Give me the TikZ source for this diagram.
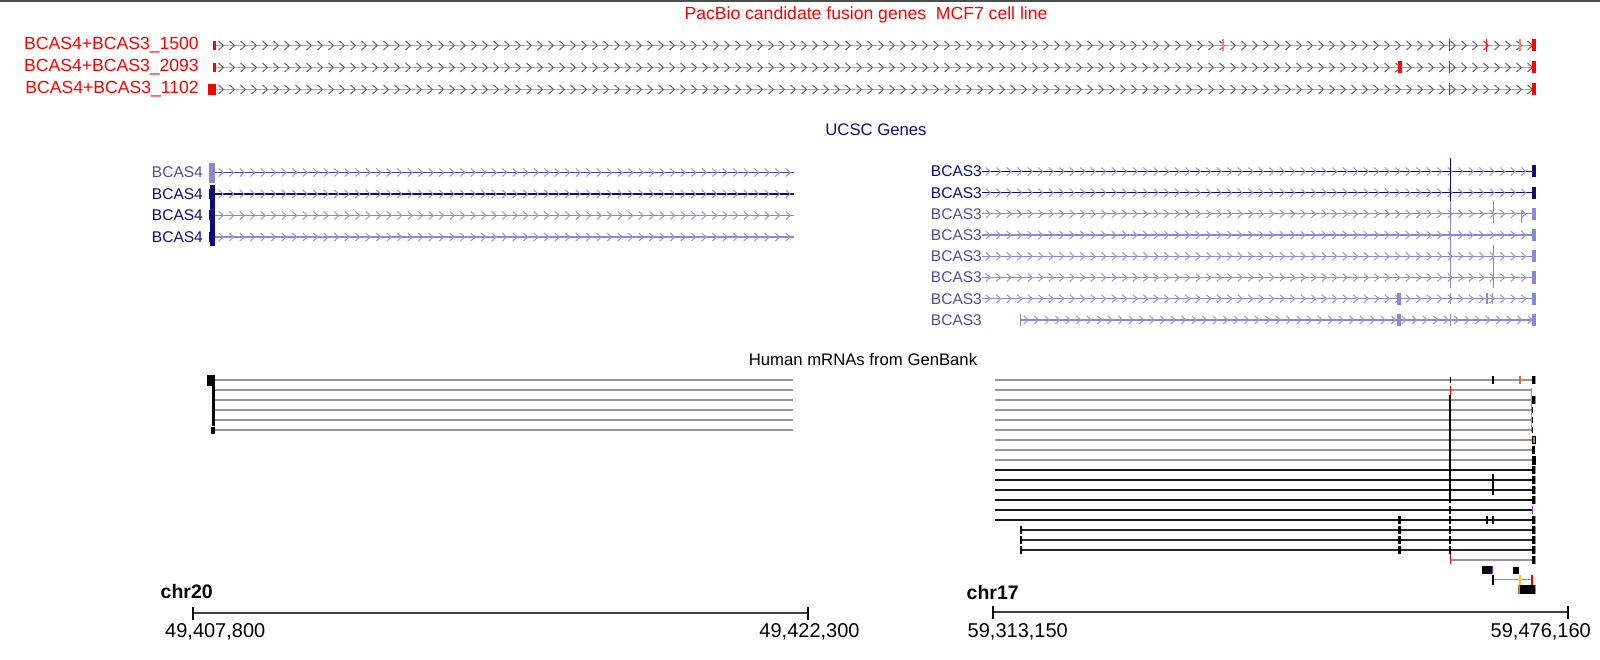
\documentclass[tikz,border=0pt]{standalone}
\usepackage{fontspec}
\setmainfont{Liberation Sans}
\definecolor{pbred}{RGB}{255,0,0}
\definecolor{pbpink}{RGB}{245,130,130}
\definecolor{pbline}{RGB}{224,152,132}
\definecolor{pbchev}{RGB}{115,100,100}
\definecolor{ucnavy}{RGB}{12,12,120}
\definecolor{ucmid}{RGB}{70,70,165}
\definecolor{uclight}{RGB}{136,136,212}
\definecolor{ucchev}{RGB}{150,150,220}
\definecolor{uctext}{RGB}{80,80,150}
\definecolor{mrgray}{RGB}{150,150,150}
\definecolor{mrgreen}{RGB}{40,210,40}
\definecolor{mrorange}{RGB}{200,120,40}
\definecolor{mrpurple}{RGB}{140,40,240}
\definecolor{mryellow}{RGB}{255,200,0}

\begin{document}
\begin{tikzpicture}[x=1pt,y=-1pt]
\tikzstyle{every node}=[inner sep=0pt]
\tikzstyle{pbtext}=[font=\fontsize{17.6}{20}\selectfont,text=pbred]
\tikzstyle{uctxt}=[font=\fontsize{15.5}{18}\selectfont,anchor=east]
\tikzstyle{title}=[font=\fontsize{16.7}{19}\selectfont]
\tikzstyle{chrtext}=[font=\fontsize{19.5}{22}\selectfont\bfseries,anchor=west]
\tikzstyle{postext}=[font=\fontsize{20}{22}\selectfont]
\tikzstyle{pbchevron}=[pbchev,line width=1]
\tikzstyle{ucchevron}=[ucchev,line width=1]
\useasboundingbox (0,0) rectangle (1600,660);
\fill[black!70] (0,0) rectangle (1600,2);

% PacBio track
\node[pbtext] (pbtitle) at (866,14.5) {PacBio candidate fusion genes\ \ MCF7 cell line};
\foreach \y/\nm/\txt in {45.5/pbA/1500,67.5/pbB/2093,89.5/pbC/1102}{
  \node[pbtext,anchor=east] (\nm) at (199,\y) {BCAS4+BCAS3\_\txt};
  \draw[pbline,line width=1.5] (215,\y) -- (1533,\y);
  \foreach \x in {221,232,...,1530}
    \draw[pbchevron] (\x-2.5,\y-4.5) -- (\x+2.5,\y) -- (\x-2.5,\y+4.5);
  \fill[pbred] (1532,\y-6) rectangle (1536,\y+6);
  \draw[pbred,line width=1.2] (1449.5,\y-6) -- (1449.5,\y+6);
}
\fill[pbred] (213,41) rectangle (215.5,50);
\fill[pbred] (213,63) rectangle (215.5,72);
\fill[pbred] (208,84) rectangle (216,95);
\draw[pbpink,line width=1.2] (1223,39.5) -- (1223,51.5);
\draw[pbred,line width=1.2] (1485.5,40) -- (1486.5,40) -- (1486.5,51) -- (1485.5,51);
\draw[pbpink,line width=1.5] (1520,39.5) -- (1520,51.5);
\fill[pbred] (1397.5,61.5) rectangle (1401.5,73.5);

% UCSC genes
\node[title,text=ucnavy] (uctitle) at (876,130) {UCSC Genes};
\foreach \y/\nm/\col/\tc in {172.5/bfA/ucmid/uctext,194/bfB/ucnavy/ucnavy,215.5/bfC/uclight/ucnavy,237/bfD/uclight/ucnavy}{
  \node[uctxt,text=\tc] (\nm) at (203,\y) {BCAS4};
  \draw[\col,line width=1.2] (215,\y) -- (794,\y);
  \foreach \x in {221,231.5,...,790}
    \draw[ucchevron] (\x-2.2,\y-4) -- (\x+2.2,\y) -- (\x-2.2,\y+4);
  \fill[ucnavy] (208.5,\y-5) rectangle (215,\y+5);
}
\fill[uclight] (209,163) rectangle (215,183);
\fill[ucnavy] (210,185) rectangle (215,246);

\foreach \i/\nm/\col/\tc in {0/btA/ucnavy/ucnavy,1/btB/ucnavy/ucnavy,2/btC/uclight/uctext,3/btD/uclight/uctext,4/btE/uclight/uctext,5/btF/uclight/uctext,6/btG/uclight/uctext}{
  \pgfmathsetmacro{\y}{171.5+21.2*\i}
  \node[uctxt,text=\tc] (\nm) at (982,\y) {BCAS3};
  \draw[\col,line width=1.2] (982,\y) -- (1534,\y);
  \foreach \x in {988,998.5,...,1530}
    \draw[ucchevron] (\x-2.2,\y-4) -- (\x+2.2,\y) -- (\x-2.2,\y+4);
  \fill[\col] (1532,\y-6) rectangle (1535.5,\y+6);
}
\node[uctxt,text=uctext] (btH) at (982,319.9) {BCAS3};
\draw[uclight,line width=1.2] (1020.5,319.9) -- (1534,319.9);
\foreach \x in {1026,1036.5,...,1530}
  \draw[ucchevron] (\x-2.2,315.9) -- (\x+2.2,319.9) -- (\x-2.2,323.9);
\fill[uclight] (1532,313.9) rectangle (1535.5,325.9);
\draw[uclight,line width=1.5] (1020.5,314) -- (1020.5,326);
\draw[ucnavy,line width=1] (1450,158) -- (1450,201.5);
\draw[uclight,line width=1] (1450,201.5) -- (1450,288);
\draw[uclight,line width=1] (1450,293) -- (1450,304) (1450,314) -- (1450,326);
\draw[uclight,line width=1.5] (1493.5,201.5) -- (1493.5,223) (1521.5,211.5) -- (1521.5,223);
\draw[uclight,line width=1.5] (1493.5,245) -- (1493.5,288);
\draw[uclight,line width=1.2] (1487,293) -- (1487,304) (1492.5,293) -- (1492.5,304);
\fill[uclight] (1396.5,292.5) rectangle (1400.5,304.5);
\fill[uclight] (1396.5,313.9) rectangle (1400.5,325.9);

% Human mRNAs
\node[title] (mrtitle) at (863,360) {Human mRNAs from GenBank};
\foreach \i in {0,...,5}
  \draw[mrgray,line width=1.3] (215,380+10*\i) -- (793,380+10*\i);
\fill[black] (207,375) rectangle (215,386);
\fill[black] (211.5,386) rectangle (215,426);
\fill[black] (210.5,427) rectangle (215,434);

\foreach \i in {0,...,8}
  \draw[mrgray,line width=1.3] (995,380+10*\i) -- (1532,380+10*\i);
\foreach \i in {9,...,14}
  \draw[black!90,line width=1.3] (995,380+10*\i) -- (1532,380+10*\i);
\foreach \i in {15,16,17}{
  \draw[black!85,line width=1.3] (1021,380+10*\i) -- (1532,380+10*\i);
  \draw[black,line width=1.2] (1021,376+10*\i) -- (1021,384+10*\i);
  \fill[black] (1398,376+10*\i) rectangle (1401,384+10*\i);
}
\draw[mrgray,line width=1.3] (1450,560) -- (1532,560);
\draw[mrgray,line width=1] (1531.5,388) -- (1531.5,432);
% exon at 1450
\draw[black,line width=1] (1450,377) -- (1450,383);
\draw[pbred,line width=1] (1450,386) -- (1450,395);
\draw[black,line width=1.2] (1450,395) -- (1450,503);
\foreach \i in {13,...,17}
  \draw[black,line width=1.2] (1450,376+10*\i) -- (1450,384+10*\i);
\draw[pbred,line width=1] (1450,554) -- (1450,564);
% inner exons
\draw[black,line width=1.2] (1493,376) -- (1493,384);
\draw[mrorange,line width=1.2] (1520,376) -- (1520,384);
\draw[black,line width=1.5] (1493,474) -- (1493,495);
\fill[black] (1398,516) rectangle (1401,524);
\draw[black,line width=1.2] (1487,516) -- (1487,524) (1493,516) -- (1493,524);
% right ends
\foreach \i in {0,2,9,10,11,12,14,15,16,17,18}{
  \fill[black] (1532,376+10*\i) rectangle (1535,384+10*\i);
  \draw[mrgreen,line width=0.8] (1535.4,376+10*\i) -- (1535.4,384+10*\i);
}
\foreach \i in {3,4,5}
  \draw[black,line width=1] (1532.5,377+10*\i) -- (1532.5,383+10*\i);
\fill[black] (1532,436) rectangle (1535.5,444);
\fill[mrorange] (1532.8,437) rectangle (1534.8,443);
\fill[black] (1532,446) rectangle (1535,454);
\fill[black] (1532,455.5) rectangle (1536,464.5);
\draw[mrpurple,line width=1.2] (1532.5,506) -- (1532.5,514);
% extra rows
\fill[black] (1482,566) rectangle (1492,574);
\draw[mrpurple,line width=1] (1492.5,566) -- (1492.5,574);
\fill[black] (1513,566.5) rectangle (1518.5,573.5);
\draw[mrgray,line width=1.3] (1493,579.5) -- (1532,579.5);
\draw[black,line width=1.2] (1493,574.5) -- (1493,584.5);
\draw[mryellow,line width=1.2] (1520,574.5) -- (1520,584.5);
\draw[pbred,line width=1.2] (1532,574.5) -- (1532,584.5);
\fill[black] (1518,585) rectangle (1535,594);
\fill[mrorange] (1518,585) rectangle (1519.5,594);
\draw[mrgreen,line width=0.8] (1535.4,585) -- (1535.4,594);

% scale bars
\node[chrtext] (chr20) at (160.5,592) {chr20};
\draw[black!75,line width=1.2] (193,613) -- (808,613);
\draw[black,line width=2] (193,607) -- (193,620) (808,607) -- (808,620);
\node[postext,anchor=west] (posA) at (165,632) {49,407,800};
\node[postext] (posB) at (809.5,632) {49,422,300};
\node[chrtext] (chr17) at (966.5,593) {chr17};
\draw[black!75,line width=1.2] (993,612) -- (1568,612);
\draw[black,line width=2] (993,606) -- (993,619) (1568,606) -- (1568,619);
\node[postext,anchor=west] (posC) at (967.5,632) {59,313,150};
\node[postext,anchor=east] (posD) at (1591,632) {59,476,160};
\end{tikzpicture}
\end{document}
